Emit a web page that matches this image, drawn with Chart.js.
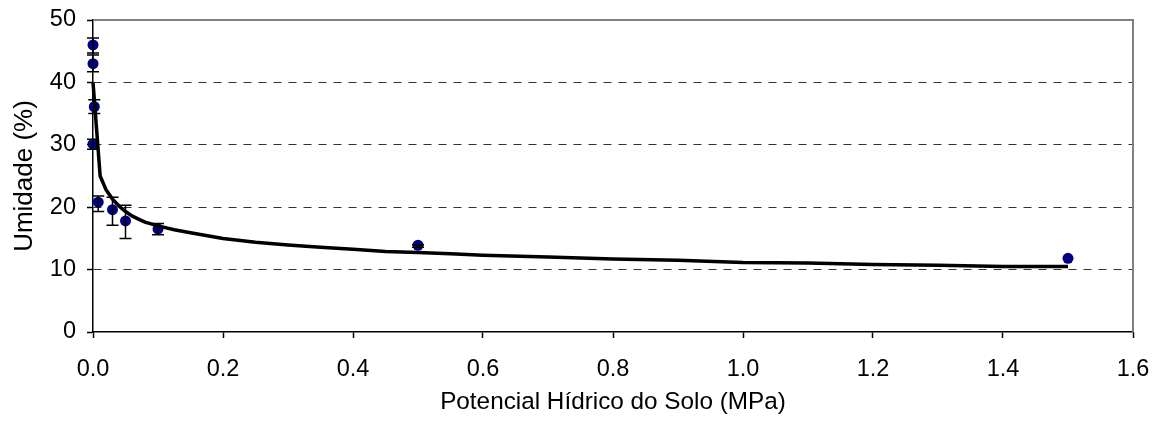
<!DOCTYPE html>
<html>
<head>
<meta charset="utf-8">
<script src="https://cdn.jsdelivr.net/npm/chart.js@4.4.0/dist/chart.umd.min.js"></script>
<style>
  html, body { margin: 0; padding: 0; background: #fff; }
  #wrap { width: 1162px; height: 427px; }
</style>
</head>
<body>
<div id="wrap"><canvas id="grafico" width="1162" height="427"></canvas></div>
<script>
// pontos medidos
const potencial = [0, 0, 0.002, 0, 0.008, 0.03, 0.05, 0.1, 0.5, 1.5];
const umidade = [46, 43, 36.1, 30.1, 20.8, 19.6, 17.8, 16.5, 13.9, 11.8];
const erroSup = [47.1, 44.4, 37.2, 30.9, 21.8, 21.6, 20.3, 17.4, 14.0, 11.8];
const erroInf = [44.7, 41.7, 35.0, 29.3, 19.3, 17.1, 15.0, 15.6, 13.6, 11.8];

// curva ajustada
const curvaX = [0, 0.011, 0.02, 0.03, 0.04, 0.05, 0.06, 0.07, 0.08, 0.1, 0.125, 0.15, 0.2, 0.25,
  0.3, 0.35, 0.4, 0.45, 0.5, 0.55, 0.6, 0.7, 0.8, 0.9, 1.0, 1.1, 1.2, 1.3, 1.4, 1.5];
const curvaY = [40, 25, 22.8, 21.3, 20.2, 19.3, 18.6, 18.1, 17.6, 17.0, 16.4, 15.9, 15.0, 14.4,
  13.95, 13.6, 13.25, 12.9, 12.75, 12.55, 12.3, 12.0, 11.7, 11.5, 11.15, 11.05, 10.8, 10.7, 10.5, 10.5];

const xTicks = [0, 0.2, 0.4, 0.6, 0.8, 1.0, 1.2, 1.4, 1.6];
const yTicks = [0, 10, 20, 30, 40, 50];

const familia = "'Liberation Sans', Arial, sans-serif";
const fonte = { family: familia, size: 23.5 };

// barras de erro + borda cinza
const barrasErro = {
  id: 'barrasErro',
  afterDatasetsDraw(chart) {
    const ctx = chart.ctx;
    const sx = chart.scales.x, sy = chart.scales.y;
    const area = chart.chartArea;
    ctx.save();
    ctx.strokeStyle = '#808080';
    ctx.lineWidth = 2;
    ctx.beginPath();
    ctx.moveTo(area.left, area.top);
    ctx.lineTo(area.right, area.top);
    ctx.lineTo(area.right, area.bottom);
    ctx.stroke();

    ctx.strokeStyle = '#000';
    ctx.lineWidth = 1.5;
    potencial.forEach(function(p, i) {
      const x = sx.getPixelForValue(p);
      const y1 = sy.getPixelForValue(erroSup[i]);
      const y2 = sy.getPixelForValue(erroInf[i]);
      if (Math.abs(y2 - y1) < 1) return;
      ctx.beginPath();
      ctx.moveTo(x, y1); ctx.lineTo(x, y2);
      ctx.moveTo(x - 6, y1); ctx.lineTo(x + 6, y1);
      ctx.moveTo(x - 6, y2); ctx.lineTo(x + 6, y2);
      ctx.stroke();
    });
    ctx.restore();
  }
};

const ctx = document.getElementById('grafico').getContext('2d');
new Chart(ctx, {
  type: 'scatter',
  data: {
    datasets: [
      {
        label: 'Curva',
        data: curvaX.map((x, i) => ({ x: x, y: curvaY[i] })),
        showLine: true,
        borderColor: '#000',
        borderWidth: 3.5,
        pointRadius: 0,
        tension: 0,
        clip: false
      },
      {
        label: 'Observado',
        data: potencial.map((x, i) => ({ x: x, y: umidade[i] })),
        backgroundColor: '#000080',
        borderColor: '#000080',
        pointRadius: 5.5,
        borderWidth: 0,
        clip: false
      }
    ]
  },
  options: {
    responsive: false,
    animation: false,
    layout: { padding: { left: 0, right: 29, top: 20, bottom: 0 } },
    plugins: { legend: { display: false }, tooltip: { enabled: false } },
    scales: {
      x: {
        type: 'linear',
        min: 0, max: 1.6,
        afterBuildTicks: function(scale) { scale.ticks = xTicks.map(v => ({ value: v })); },
        afterFit: function(scale) {
          scale.height = 95;
          scale.paddingLeft = 0;
          scale.paddingRight = 0;
        },
        ticks: {
          color: '#000', font: fonte, padding: 17, maxRotation: 0,
          callback: v => Number(v).toFixed(1)
        },
        grid: { drawOnChartArea: false, tickLength: 6, tickColor: '#000', tickWidth: 1.5 },
        border: { color: '#000', width: 1.5 },
        title: { display: true, text: 'Potencial Hídrico do Solo (MPa)', color: '#000', font: { family: familia, size: 24.3 }, padding: { top: 0, bottom: 10 } }
      },
      y: {
        type: 'linear',
        min: 0, max: 50,
        afterBuildTicks: function(scale) { scale.ticks = yTicks.map(v => ({ value: v })); },
        afterFit: function(scale) {
          scale.width = 93;
          scale.paddingTop = 0;
          scale.paddingBottom = 0;
        },
        ticks: { color: '#000', font: fonte, padding: 11 },
        grid: {
          color: c => (c.tick.value === 0 || c.tick.value === 50) ? 'rgba(0,0,0,0)' : '#333',
          lineWidth: 1,
          tickLength: 6, tickColor: '#000', tickWidth: 1.5, tickBorderDash: []
        },
        border: { color: '#000', width: 1.5, dash: [8, 7] },
        title: { display: true, text: 'Umidade (%)', color: '#000', font: { family: familia, size: 26 }, padding: { top: 9, bottom: 0 } }
      }
    }
  },
  plugins: [barrasErro]
});
</script>
</body>
</html>
